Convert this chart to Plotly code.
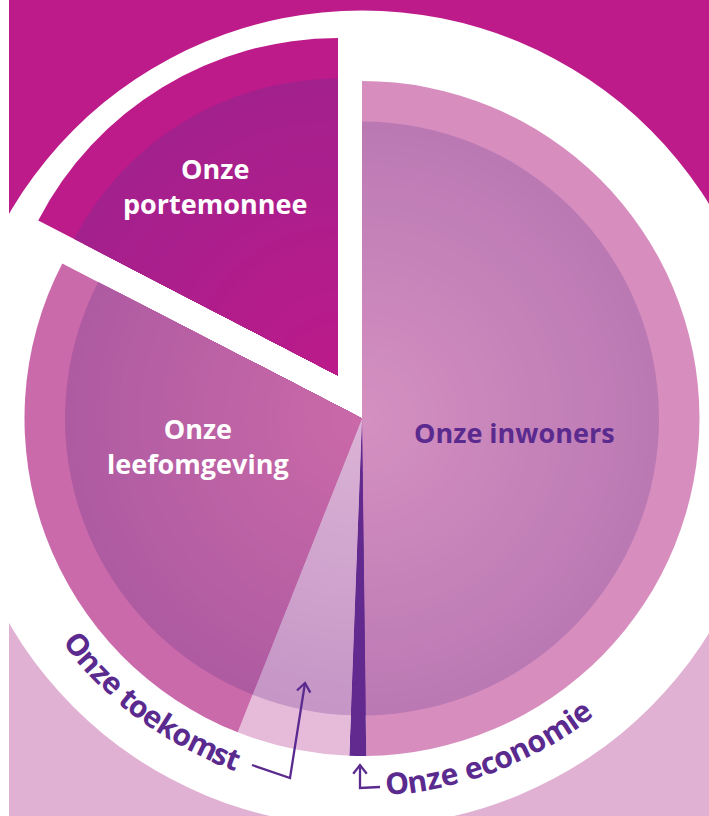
import math
import plotly.graph_objects as go

# ---------------- data ----------------
categories = ["Onze inwoners", "Onze economie", "Onze toekomst", "Onze leefomgeving", "Onze portemonnee"]
shares = [49.8, 0.8, 5.4, 26.6, 17.4]

band_colors = ["#D78EBE", "#62298F", "#E5BBD9", "#CA6AAA", "#BD1A8A"]
inner_edge_colors = ["#BB79B4", "#62298F", "#C596C6", "#AF5BA2", "#A3218D"]
inner_center_colors = ["#D490C0", "#62298F", "#DBB3D6", "#CA69A8", "#BC1A8A"]

# ---------------- layout constants ----------------
W, H = 709, 816
CX, CY = 362, 418.5
R_OUT, R_IN = 337.5, 297
SHIFT = (-24, -43)          # exploded "portemonnee"
WHITE_R = 408
BG_TOP = "#BD1A8A"
BG_BOTTOM = "#E0B1D2"
PURPLE = "#5A2A8E"
FONT = "Open Sans"
N_LAYERS = 28
TRANSP = "rgba(0,0,0,0)"
EXPLODED = "Onze portemonnee"


def px(x):
    return x / W


def py(y):
    return 1 - y / H


def hex2rgb(h):
    h = h.lstrip("#")
    return tuple(int(h[i:i + 2], 16) for i in (0, 2, 4))


def lerp(c1, c2, t):
    a, b = hex2rgb(c1), hex2rgb(c2)
    return "rgb(%d,%d,%d)" % tuple(round(a[i] + (b[i] - a[i]) * t) for i in range(3))


def pie(colors, cx, cy, r):
    return go.Pie(
        values=shares, labels=categories, sort=False, direction="clockwise", rotation=0,
        marker=dict(colors=colors, line=dict(width=0)), textinfo="none", hoverinfo="skip",
        domain=dict(x=[px(cx - r), px(cx + r)], y=[py(cy + r), py(cy - r)]),
        showlegend=False,
    )


def mask(colors, keep_exploded):
    return [c if ((lab == EXPLODED) == keep_exploded) else TRANSP
            for c, lab in zip(colors, categories)]


fig = go.Figure()
for keep, (cx, cy) in [(False, (CX, CY)), (True, (CX + SHIFT[0], CY + SHIFT[1]))]:
    fig.add_trace(pie(mask(band_colors, keep), cx, cy, R_OUT))
    for k in range(N_LAYERS):
        t = k / (N_LAYERS - 1)
        cols = [lerp(e, c, t) for e, c in zip(inner_edge_colors, inner_center_colors)]
        r = R_IN * (1 - k / N_LAYERS)
        fig.add_trace(pie(mask(cols, keep), cx, cy, r))

# ---------------- background shapes ----------------
shapes = [
    dict(type="rect", xref="paper", yref="paper", x0=px(9), x1=px(W), y0=py(0), y1=py(CY),
         fillcolor=BG_TOP, line=dict(width=0), layer="below"),
    dict(type="rect", xref="paper", yref="paper", x0=px(9), x1=px(W), y0=py(CY), y1=py(H),
         fillcolor=BG_BOTTOM, line=dict(width=0), layer="below"),
    dict(type="circle", xref="paper", yref="paper", x0=px(CX - WHITE_R), x1=px(CX + WHITE_R),
         y0=py(CY + WHITE_R), y1=py(CY - WHITE_R), fillcolor="white", line=dict(width=0), layer="below"),
]


def polyline(points):
    d = "M " + " L ".join("%f,%f" % (px(x), py(y)) for x, y in points)
    return dict(type="path", xref="paper", yref="paper", path=d,
                line=dict(color=PURPLE, width=2.3), layer="above")


def chevron(tip, frm, size=11, spread=38):
    dx, dy = frm[0] - tip[0], frm[1] - tip[1]
    L = math.hypot(dx, dy)
    ux, uy = dx / L, dy / L
    pts = []
    for s in (spread, -spread):
        a = math.radians(s)
        vx = ux * math.cos(a) - uy * math.sin(a)
        vy = ux * math.sin(a) + uy * math.cos(a)
        pts.append((tip[0] + vx * size, tip[1] + vy * size))
    return polyline([pts[0], tip, pts[1]])


toekomst_arrow = [(252, 765), (290, 778), (305, 683)]
economie_arrow = [(380, 787), (360, 788), (360, 765)]
for arr in (toekomst_arrow, economie_arrow):
    shapes.append(polyline(arr))
    shapes.append(chevron(arr[-1], arr[-2]))

# ---------------- labels ----------------
annotations = []


def label(text, x, y, color):
    annotations.append(dict(text=text, x=px(x), y=py(y), xref="paper", yref="paper",
                            showarrow=False, xanchor="center", yanchor="middle",
                            font=dict(family=FONT, size=27, color=color, weight="bold")))


label("Onze inwoners", 514, 432, PURPLE)
label("Onze<br>leefomgeving", 198, 446, "white")
label("Onze<br>portemonnee", 215, 186, "white")

CHAR_W = {"O": .78, "n": .66, "z": .52, "e": .6, " ": .26, "t": .43, "o": .63, "k": .63,
          "m": .97, "s": .51, "c": .51, "i": .3}


def arc_text(text, th_start, th_end, r):
    ws = [CHAR_W.get(ch, .6) for ch in text]
    centers = []
    acc = 0
    for w in ws:
        centers.append(acc + w / 2)
        acc += w
    c0, c1 = centers[0], centers[-1]
    for ch, c in zip(text, centers):
        if ch == " ":
            continue
        th = th_start + (th_end - th_start) * (c - c0) / (c1 - c0)
        a = math.radians(th)
        x = CX + r * math.sin(a)
        y = CY - r * math.cos(a)
        annotations.append(dict(text=ch, x=px(x), y=py(y), xref="paper", yref="paper",
                                showarrow=False, xanchor="center", yanchor="middle",
                                textangle=th - 180,
                                font=dict(family=FONT, size=30, color=PURPLE, weight="bold")))


arc_text("Onze toekomst", 231.4, 200.7, 363)
arc_text("Onze economie", 174.5, 143.3, 366)

fig.update_layout(
    width=W, height=H, margin=dict(l=0, r=0, t=0, b=0),
    paper_bgcolor="white", plot_bgcolor="white", showlegend=False,
    shapes=shapes, annotations=annotations,
)

fig.write_html("out.html", config={"displayModeBar": False},
               post_script="document.body.style.margin='0';document.body.style.overflow='hidden';")
